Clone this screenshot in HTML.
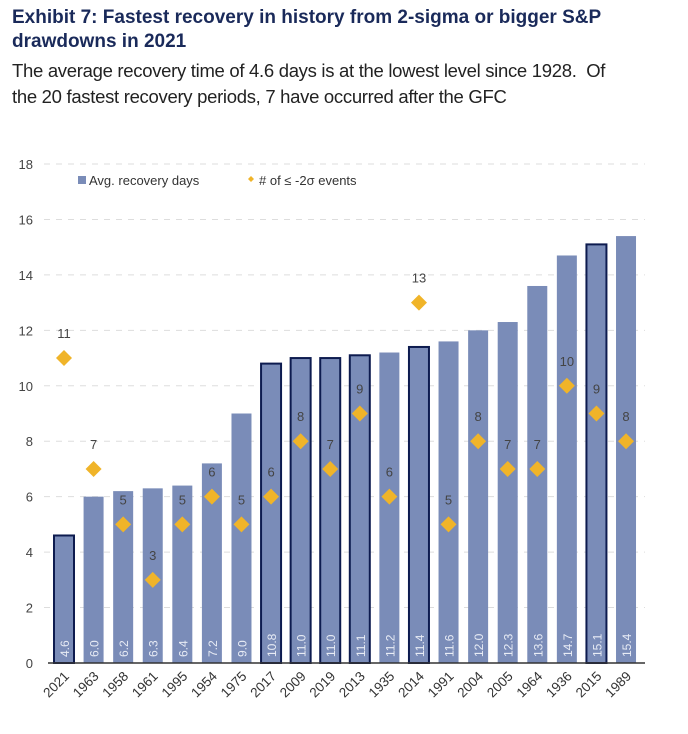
<!DOCTYPE html>
<html><head><meta charset="utf-8">
<style>
body{margin:0;background:#fff;width:688px;height:734px;overflow:hidden;font-family:"Liberation Sans",sans-serif;}
#t1{position:absolute;left:12px;top:6px;font-size:19px;font-weight:bold;color:#1a2a5a;line-height:24px;letter-spacing:0px}
#t2{position:absolute;left:12px;top:58px;font-size:18.5px;color:#222;line-height:26px;letter-spacing:-0.3px}
svg{position:absolute;left:0;top:0}
</style></head><body>
<div id="t1">Exhibit 7: Fastest recovery in history from 2-sigma or bigger S&amp;P<br>drawdowns in 2021</div>
<div id="t2">The average recovery time of 4.6 days is at the lowest level since 1928.&nbsp; Of<br>the 20 fastest recovery periods, 7 have occurred after the GFC</div>
<svg id="c" width="688" height="734"></svg>
<script>
const categories=["2021","1963","1958","1961","1995","1954","1975","2017","2009","2019","2013","1935","2014","1991","2004","2005","1964","1936","2015","1989"];
const recoveryDays=[4.6,6.0,6.2,6.3,6.4,7.2,9.0,10.8,11.0,11.0,11.1,11.2,11.4,11.6,12.0,12.3,13.6,14.7,15.1,15.4];
const eventCounts=[11,7,5,3,5,6,5,6,8,7,9,6,13,5,8,7,7,10,9,8];
const highlighted=["2021","2017","2009","2019","2013","2014","2015"];
const yTicks=[0,2,4,6,8,10,12,14,16,18];
const NS="http://www.w3.org/2000/svg";
const svg=document.getElementById('c');
const y0=663,yTop=164,yMax=18;
const y=v=>y0-(v/yMax)*(y0-yTop);
const x=i=>64+i*29.58;
function el(t,a,p){const e=document.createElementNS(NS,t);for(const k in a)e.setAttribute(k,a[k]);(p||svg).appendChild(e);return e;}
yTicks.forEach(v=>{
  if(v>0){const g=el('line',{x1:44,x2:645,y1:y(v),y2:y(v),stroke:'#ddd','stroke-width':1,'stroke-dasharray':'6,6'});
  
  }
  const t=el('text',{x:33,y:y(v)+5,'text-anchor':'end','font-size':13,fill:'#444'});t.textContent=v;
  
  
});
categories.forEach((c,i)=>{
  const v=recoveryDays[i],hl=highlighted.includes(c),w=20;
  const r=el('rect',{x:x(i)-w/2,y:y(v),width:w,height:y0-y(v),fill:'#7a8cb8',stroke:hl?'#0d1b4f':'none','stroke-width':hl?2:0});
  
  
  const vl=el('text',{x:0,y:0,transform:`translate(${x(i)+5},${y0-6}) rotate(-90)`,'font-size':12,fill:'#e8ecf5'});vl.textContent=v.toFixed(1);
  
  
  const xl=el('text',{x:0,y:0,transform:`translate(${x(i)+6},${y0+14}) rotate(-45)`,'text-anchor':'end','font-size':13.5,fill:'#333'});xl.textContent=c;
  
  
  const e=eventCounts[i],ey=y(e);
  const d=el('polygon',{points:`${x(i)},${ey-8} ${x(i)+8},${ey} ${x(i)},${ey+8} ${x(i)-8},${ey}`,fill:'#f0b429'});
  
  
  const el2=el('text',{x:x(i),y:ey-20,'text-anchor':'middle','font-size':13,fill:'#444'});el2.textContent=e;
  
  
});
const ax=el('line',{x1:48,x2:645,y1:y0,y2:y0,stroke:'#333','stroke-width':1.5});


const lg=el('g',{});


el('rect',{x:78,y:176,width:8,height:8,fill:'#7a8cb8'},lg);
const l1=el('text',{x:89,y:185,'font-size':13,fill:'#333'},lg);l1.textContent='Avg. recovery days';


el('polygon',{points:'251,176 254,179 251,182 248,179',fill:'#f0b429'},lg);
const l2=el('text',{x:259,y:185,'font-size':13,fill:'#333'},lg);l2.textContent='# of ≤ -2σ events';


</script>
</body></html>
